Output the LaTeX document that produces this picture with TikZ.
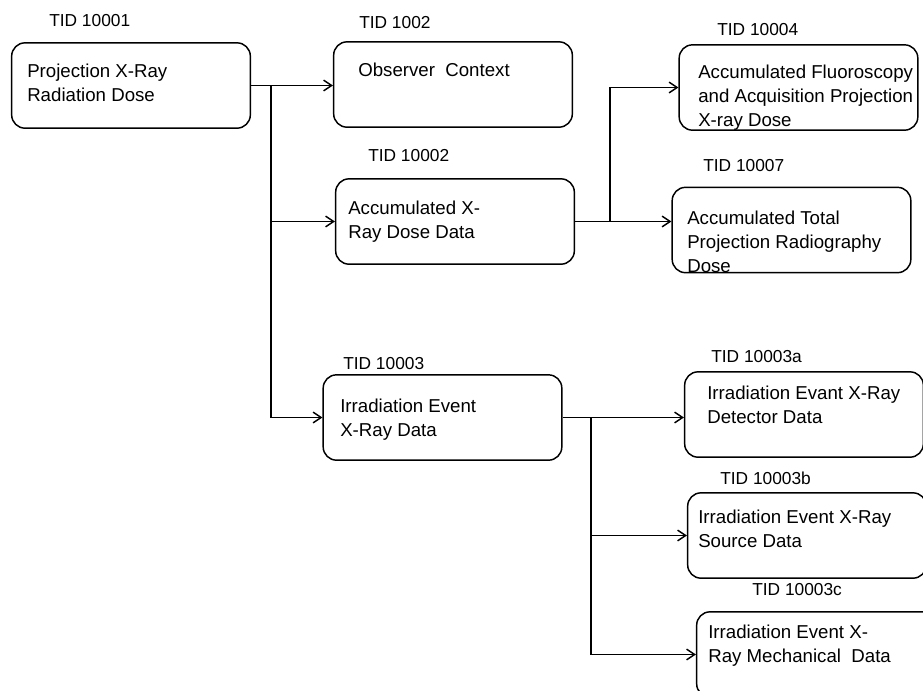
\documentclass[tikz,border=0pt]{standalone}
\usepackage{fontspec}
\setmainfont{Liberation Sans}
\usetikzlibrary{calc, positioning, arrows.meta}
\tikzstyle{tbox}=[draw, shape=rectangle, rounded corners=10pt, line width=1.1pt, minimum width=179pt, minimum height=64pt, inner sep=0pt]
\tikzstyle{txt}=[anchor=north west, align=left, inner sep=0pt, font=\fontsize{14}{18}\selectfont]
\tikzstyle{tid}=[anchor=west, inner sep=0pt, font=\fontsize{13}{15}\selectfont]
\tikzstyle{link}=[line width=1.1pt]
\tikzset{>={Straight Barb[length=6pt, width=8pt]}}

\begin{document}
\begin{tikzpicture}[x=0.75pt, y=-0.75pt]
\useasboundingbox (0,0) rectangle (923,690);
\foreach \n/\cx/\cy in {b1/131/85.5, b2/453/84.5, b3/455/221.5, b4/798.5/87.5, b5/791.5/230, b6/442.5/417.5, b7/804/414.5, b8/807/535.5, b9/816/654.5}
{
\node[tbox] (\n) at (\cx,\cy) {};
}
% texts inside the boxes
\node[txt] (t1) at (27,64) {Projection X-Ray\\Radiation Dose};
\node[txt] (t2) at (358,63) {Observer\ \ Context};
\node[txt] (t3) at (348,201) {Accumulated X-\\Ray Dose Data};
\node[txt] (t4) at (698,65) {Accumulated Fluoroscopy\\and Acquisition Projection\\X-ray Dose};
\node[txt] (t5) at (687,211) {Accumulated Total\\Projection Radiography\\Dose};
\node[txt] (t6) at (340,399) {Irradiation Event\\X-Ray Data};
\node[txt] (t7) at (707,386) {Irradiation Evant X-Ray\\Detector Data};
\node[txt] (t8) at (698,510) {Irradiation Event X-Ray\\Source Data};
\node[txt] (t9) at (708,625) {Irradiation Event X-\\Ray Mechanical\ \ Data};
% TID labels
\node[tid] (l1) at (49,21) {TID 10001};
\node[tid] (l2) at (359,23) {TID 1002};
\node[tid] (l3) at (368,156) {TID 10002};
\node[tid] (l4) at (717,30) {TID 10004};
\node[tid] (l5) at (703,166) {TID 10007};
\node[tid] (l6) at (343,364) {TID 10003};
\node[tid] (l7) at (711,357) {TID 10003a};
\node[tid] (l8) at (720,478) {TID 10003b};
\node[tid] (l9) at (752,590) {TID 10003c};
% connectors
\coordinate (j1) at (271,85.5);
\coordinate (j2) at (610,221.5);
\coordinate (j3) at (591,417.5);
\draw[link, ->] (b1.east) -- (b1.east -| b2.west);
\draw[link, ->] (j1) |- (b6.west);
\draw[link, ->] (j1 |- b3.west) -- (b3.west);
\draw[link, ->] (b3.east) -- (b3.east -| b5.west);
\draw[link, ->] (j2) |- (b4.west);
\draw[link, ->] (b6.east) -- (b6.east -| b7.west);
\draw[link, ->] (j3) |- (b9.west);
\draw[link, ->] (j3 |- b8.west) -- (b8.west);
\end{tikzpicture}
\end{document}
